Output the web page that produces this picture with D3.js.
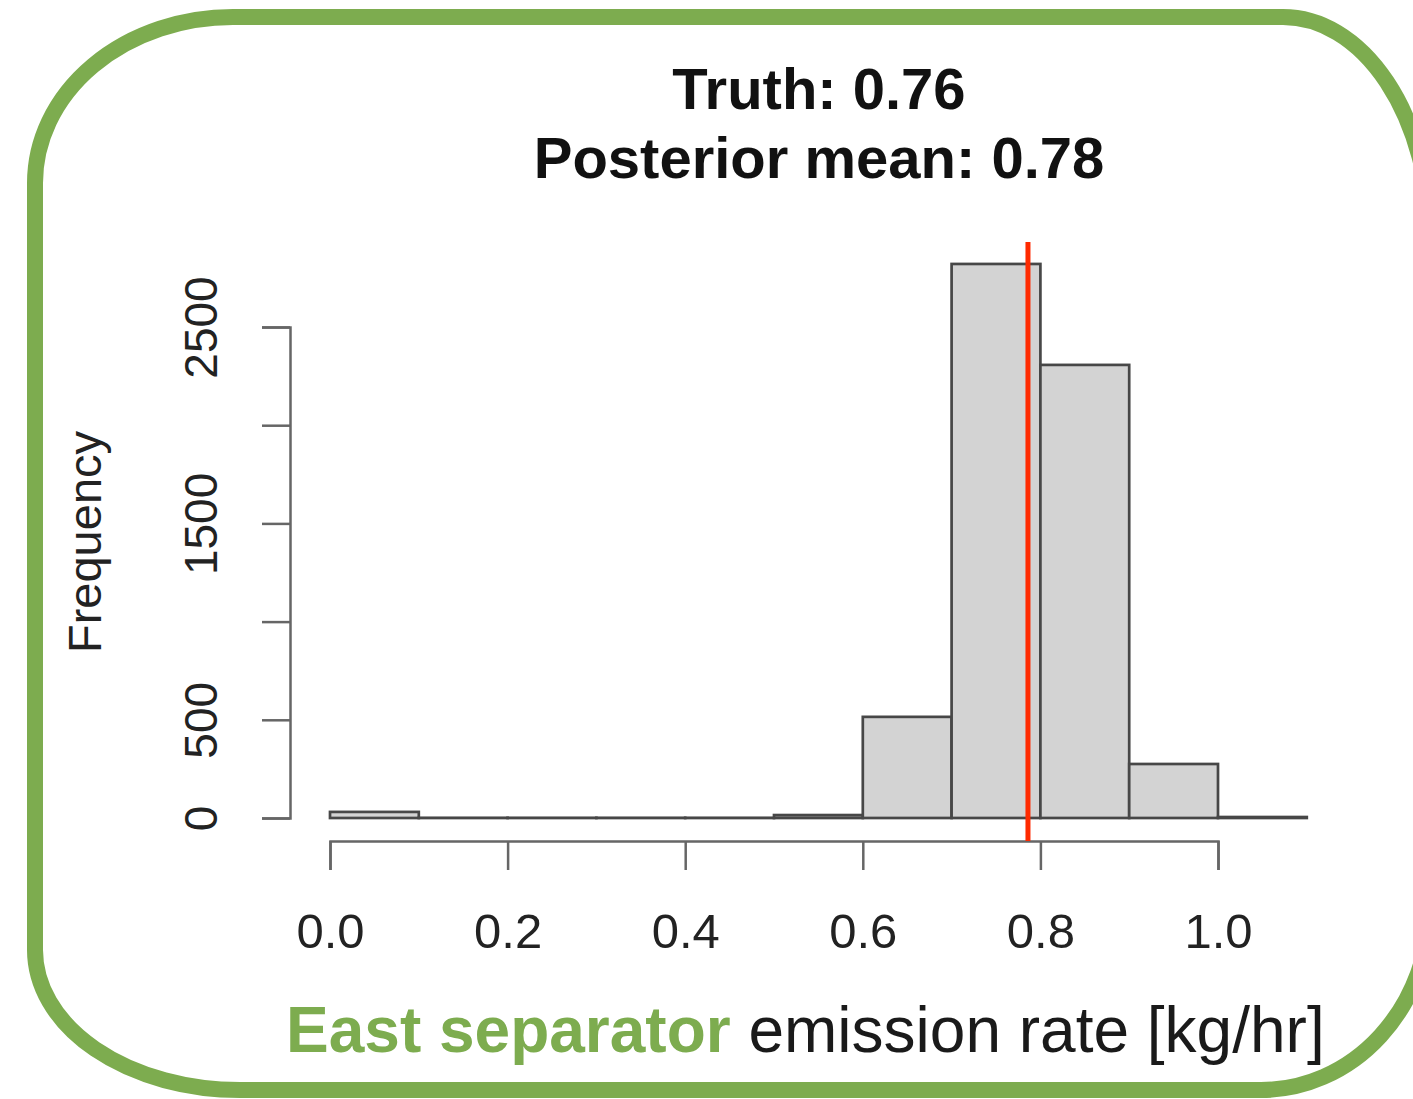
<!DOCTYPE html>
<html>
<head>
<meta charset="utf-8">
<script src="https://cdn.jsdelivr.net/npm/d3@7"></script>
<style>
  body { margin: 0; background: #fff; }
  svg { display: block; font-family: "Liberation Sans", Arial, sans-serif; }
</style>
</head>
<body>
<div id="chart"></div>
<script>
// histogram bins (lower edge, upper edge) and counts
const binStarts = [0.0, 0.1, 0.2, 0.3, 0.4, 0.5, 0.6, 0.7, 0.8, 0.9, 1.0]
const binEnds   = [0.1, 0.2, 0.3, 0.4, 0.5, 0.6, 0.7, 0.8, 0.9, 1.0, 1.1]
const counts    = [31, 1, 1, 1, 1, 15, 515, 2821, 2307, 275, 5]

const xTicks = [0.0, 0.2, 0.4, 0.6, 0.8, 1.0]
const yTicks = [0, 500, 1000, 1500, 2000, 2500]
const yLabels = ["0", "500", "", "1500", "", "2500"]

const posteriorMean = 0.786
const titleLines = ["Truth: 0.76", "Posterior mean: 0.78"]

const W = 1413, H = 1099
const green = "#7dac4f"

const svg = d3.select("#chart")
              .append("svg")
              .attr("width", W)
              .attr("height", H)

// rounded green frame (right edge runs just off the picture)
const L = 35, T = 17, R = 1430, B = 1090
svg.append("path")
   .attr("d", `M${L + 198},${T} L${R - 147},${T}
               A147,222 0 0 1 ${R},${T + 222}
               L${R},${B - 185}
               A169,185 0 0 1 ${R - 169},${B}
               L${L + 205},${B}
               A205,140 0 0 1 ${L},${B - 140}
               L${L},${T + 166}
               A198,166 0 0 1 ${L + 198},${T} Z`)
   .attr("fill", "none")
   .attr("stroke", green)
   .attr("stroke-width", 16)

const xScale = d3.scaleLinear().domain([0, 1]).range([330, 1218])
const yScale = d3.scaleLinear().domain([0, 2500]).range([818, 327])
const axisY = 841

// title
svg.append("g")
   .selectAll("text")
   .data(titleLines)
   .join("text")
   .attr("x", 819)
   .attr("y", (d, i) => 109 + i * 69)
   .attr("text-anchor", "middle")
   .attr("font-size", 58)
   .attr("font-weight", "bold")
   .attr("fill", "#111")
   .text(d => d)

// bars
svg.append("g")
   .selectAll(".bar")
   .data(counts)
   .join("rect")
   .attr("class", "bar")
   .attr("x", (d, i) => xScale(binStarts[i]))
   .attr("y", d => yScale(d))
   .attr("width", (d, i) => xScale(binEnds[i]) - xScale(binStarts[i]))
   .attr("height", d => yScale(0) - yScale(d))
   .attr("fill", "#d3d3d3")
   .attr("stroke", "#474747")
   .attr("stroke-width", 2.7)

// x axis
const xAxis = d3.axisBottom(xScale)
                .tickValues(xTicks)
                .tickFormat(d3.format(".1f"))
                .tickSize(29)
                .tickPadding(43)

const gx = svg.append("g")
              .attr("transform", `translate(0, ${axisY})`)
              .call(xAxis)
gx.select(".domain").attr("stroke", "#666").attr("stroke-width", 2.5)
gx.selectAll(".tick line").attr("stroke", "#666").attr("stroke-width", 2.5)
gx.selectAll(".tick text")
  .attr("font-size", 49)
  .attr("font-family", "Liberation Sans, Arial, sans-serif")
  .attr("fill", "#222")

// y axis
const yAxis = d3.axisLeft(yScale)
                .tickValues(yTicks)
                .tickFormat((d, i) => yLabels[i])
                .tickSize(28)
                .tickSizeOuter(28)

const gy = svg.append("g")
              .attr("transform", "translate(290, 0)")
              .call(yAxis)
gy.select(".domain").attr("stroke", "#666").attr("stroke-width", 2.5)
gy.selectAll(".tick line").attr("stroke", "#666").attr("stroke-width", 2.5)
gy.selectAll(".tick text")
  .attr("transform", "rotate(-90)")
  .attr("x", 0)
  .attr("y", -73)
  .attr("dy", 0)
  .attr("text-anchor", "middle")
  .attr("font-size", 46)
  .attr("font-family", "Liberation Sans, Arial, sans-serif")
  .attr("fill", "#222")

svg.append("text")
   .attr("transform", "translate(101, 542) rotate(-90)")
   .attr("text-anchor", "middle")
   .attr("font-size", 47)
   .attr("fill", "#222")
   .text("Frequency")

// posterior mean line
svg.append("line")
   .attr("x1", xScale(posteriorMean))
   .attr("x2", xScale(posteriorMean))
   .attr("y1", yScale(2933))
   .attr("y2", axisY)
   .attr("stroke", "#ff2a00")
   .attr("stroke-width", 5)

// x label
const xl = svg.append("text")
              .attr("x", 286)
              .attr("y", 1052)
              .attr("font-size", 64)
xl.append("tspan")
  .attr("font-weight", "bold")
  .attr("fill", green)
  .text("East separator")
xl.append("tspan")
  .attr("fill", "#1a1a1a")
  .text(" emission rate [kg/hr]")
</script>
</body>
</html>
